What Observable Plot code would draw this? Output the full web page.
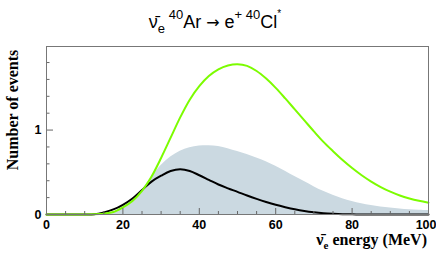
<!DOCTYPE html>
<html>
<head>
<meta charset="utf-8">
<script src="https://cdn.jsdelivr.net/npm/d3@7"></script>
<script src="https://cdn.jsdelivr.net/npm/@observablehq/plot@0.6"></script>
<style>
  html, body { margin: 0; padding: 0; background: #fff; }
</style>
</head>
<body>
<div id="chart"></div>
<script>
// Neutrino energy grid (MeV)
const energy = [0, 2.5, 5, 7.5, 10, 12.5, 15, 17.5, 20, 22.5, 25, 27.5, 30, 32.5, 35, 37.5, 40, 42.5, 45, 47.5, 50,
  52.5, 55, 57.5, 60, 62.5, 65, 67.5, 70, 72.5, 75, 77.5, 80, 82.5, 85, 87.5, 90, 92.5, 95, 97.5, 100];

// Green curve
const greenEvents = [0, 0, 0, 0, 0, 0.002, 0.01, 0.03, 0.085, 0.16, 0.28, 0.45, 0.67, 0.91, 1.15, 1.36, 1.52, 1.64, 1.72, 1.765, 1.78,
  1.76, 1.70, 1.61, 1.50, 1.375, 1.245, 1.115, 0.985, 0.86, 0.75, 0.645, 0.55, 0.465, 0.39, 0.325, 0.27, 0.225, 0.19, 0.162, 0.14];

// Black curve
const blackEvents = [0, 0, 0, 0, 0, 0.003, 0.025, 0.06, 0.115, 0.19, 0.29, 0.39, 0.46, 0.515, 0.535, 0.515, 0.465, 0.41, 0.355, 0.31, 0.268,
  0.225, 0.185, 0.148, 0.115, 0.087, 0.062, 0.042, 0.027, 0.016, 0.009, 0.004, 0.002, 0, 0, 0, 0, 0, 0, 0, 0];

// Shaded (grey-blue) spectrum
const shadedEvents = [0, 0, 0, 0, 0, 0, 0.008, 0.03, 0.09, 0.17, 0.29, 0.44, 0.58, 0.68, 0.75, 0.79, 0.81, 0.815, 0.805, 0.78, 0.745,
  0.71, 0.67, 0.625, 0.572, 0.513, 0.45, 0.39, 0.33, 0.275, 0.227, 0.187, 0.155, 0.128, 0.107, 0.09, 0.077, 0.066, 0.057, 0.051, 0.047];

// Axis ticks
const xMajorTicks = [0, 20, 40, 60, 80, 100];
const xMinorTicks = [5, 10, 15, 25, 30, 35, 45, 50, 55, 65, 70, 75, 85, 90, 95];
const yMajorTicks = [0, 1];
const yMinorTicks = [0.2, 0.4, 0.6, 0.8, 1.2, 1.4, 1.6, 1.8];
const xTickLabels = ["0", "20", "40", "60", "80", "100"];
const yTickLabels = ["0", "1"];

const W = 436, H = 257;
const mL = 46, mR = 8, mT = 46, mB = 43;
const yMax = 1.99;
const pxPerY = (H - mT - mB) / yMax;
const pxPerX = (W - mL - mR) / 100;

const rows = energy.map((e, i) => ({e, g: greenEvents[i], b: blackEvents[i], s: shadedEvents[i]}));
const xLabelRows = xMajorTicks.map((x, i) => ({x, label: xTickLabels[i]}));
const yLabelRows = yMajorTicks.map((y, i) => ({y, label: yTickLabels[i]}));
const sans = "'Liberation Sans', Arial, Helvetica, sans-serif";
const serif = "'Liberation Serif', 'Times New Roman', serif";

const plot = Plot.plot({
  width: W, height: H,
  marginLeft: mL, marginRight: mR, marginTop: mT, marginBottom: mB,
  x: {domain: [0, 100], axis: null},
  y: {domain: [0, yMax], axis: null},
  style: {fontFamily: sans, background: "#fff"},
  marks: [
    Plot.areaY(rows, {x: "e", y: "s", fill: "#cbd9e1", curve: "catmull-rom"}),
    Plot.line(rows, {x: "e", y: "b", stroke: "#000", strokeWidth: 2, curve: "catmull-rom"}),
    Plot.line(rows, {x: "e", y: "g", stroke: "#7cfc00", strokeWidth: 2, curve: "catmull-rom"}),
    // inner ticks (ROOT style)
    Plot.ruleX(xMajorTicks, {x: d => d, y1: 0, y2: 6 / pxPerY, stroke: "#666"}),
    Plot.ruleX(xMinorTicks, {x: d => d, y1: 0, y2: 3 / pxPerY, stroke: "#666"}),
    Plot.ruleY(yMajorTicks, {y: d => d, x1: 0, x2: 7 / pxPerX, stroke: "#666"}),
    Plot.ruleY(yMinorTicks, {y: d => d, x1: 0, x2: 3.5 / pxPerX, stroke: "#666"}),
    Plot.frame({stroke: "#777"}),
    // tick labels
    Plot.text(xLabelRows.slice(0, -1), {x: "x", frameAnchor: "bottom", dy: 14, text: "label",
      fontWeight: "bold", fontSize: 12.5, fill: "#000", textAnchor: "middle"}),
    Plot.text(xLabelRows.slice(-1), {x: "x", frameAnchor: "bottom", dy: 14, dx: 8, text: "label",
      fontWeight: "bold", fontSize: 12.5, fill: "#000", textAnchor: "end"}),
    Plot.text(yLabelRows, {y: "y", frameAnchor: "left", dx: -5, text: "label",
      fontWeight: "bold", fontSize: 12.5, fill: "#000", textAnchor: "end"})
  ]
});

document.getElementById("chart").appendChild(plot);

const svg = d3.select(plot);

// Title: ν̄e 40Ar → e+ 40Cl*
const title = svg.append("text")
  .attr("x", 215).attr("y", 28)
  .attr("text-anchor", "middle")
  .attr("font-family", sans)
  .attr("font-size", 18)
  .attr("fill", "#000");
title.append("tspan").text("ν\u0304");
title.append("tspan").attr("font-size", 13).attr("dy", 5).text("e");
title.append("tspan").attr("font-size", 13).attr("dy", -14).text(" 40");
title.append("tspan").attr("dy", 9).text("Ar ");
title.append("tspan").attr("font-family", "'DejaVu Sans', sans-serif").attr("font-size", 16).text("\u2192");
title.append("tspan").text(" e");
title.append("tspan").attr("font-size", 13).attr("dy", -9).text("+");
title.append("tspan").attr("font-size", 13).text(" 40");
title.append("tspan").attr("dy", 9).text("Cl");
title.append("tspan").attr("font-size", 10).attr("dy", -11).text("*");

// Y title
svg.append("text")
  .attr("transform", "translate(18,110) rotate(-90)")
  .attr("text-anchor", "middle")
  .attr("font-family", serif)
  .attr("font-weight", "bold")
  .attr("font-size", 16)
  .attr("fill", "#000")
  .text("Number of events");

// X title
const xt = svg.append("text")
  .attr("x", 427).attr("y", 245)
  .attr("text-anchor", "end")
  .attr("font-family", serif)
  .attr("font-weight", "bold")
  .attr("font-size", 16)
  .attr("fill", "#000");
xt.append("tspan").text("ν\u0304");
xt.append("tspan").attr("font-size", 11).attr("dy", 4).text("e");
xt.append("tspan").attr("dy", -4).text(" energy (MeV)");
</script>
</body>
</html>
